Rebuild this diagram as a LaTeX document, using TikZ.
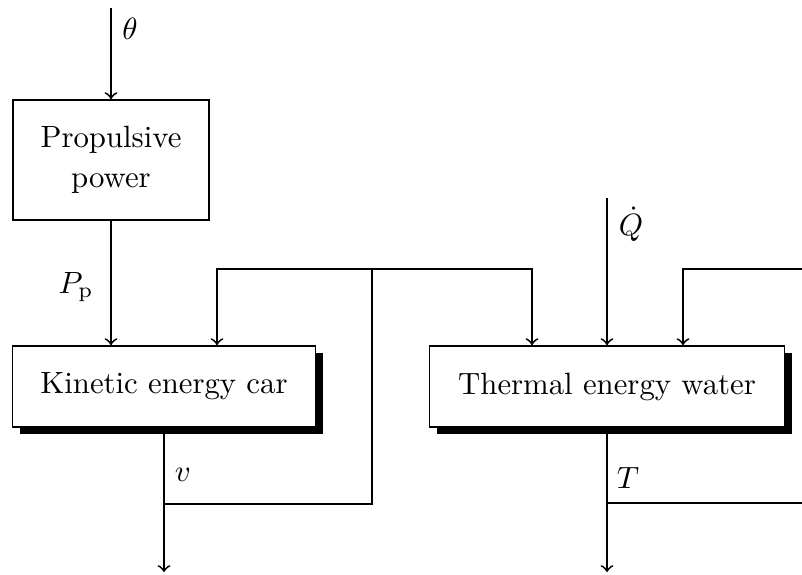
\documentclass[tikz,border=0pt]{standalone}
\usetikzlibrary{shadows}
\begin{document}
\begin{tikzpicture}[x=0.325pt,y=-0.325pt,
  line width=0.6pt,
  blk/.style={draw,fill=white,line width=0.6pt,inner sep=0pt,align=center},
  shd/.style={drop shadow={shadow xshift=2.4pt,shadow yshift=-2.4pt,fill=black,opacity=1}},
  lbl/.style={inner sep=0pt},
  >=to]
\useasboundingbox (0,0) rectangle (802,574);
% blocks
\node[blk,minimum width=63.7pt,minimum height=39pt] (prop) at (111,160) {Propulsive\\[1pt]power};
\node[blk,shd,minimum width=98.5pt,minimum height=26.3pt] (kin) at (164,386.5) {Kinetic energy car};
\node[blk,shd,minimum width=115.4pt,minimum height=26.3pt] (therm) at (607,386.5) {Thermal energy water};
% coordinates
\coordinate (thin) at (111,8);
\coordinate (qin) at (607,198);
\coordinate (fbk) at (217,269);
\coordinate (fbj) at (372,269);
\coordinate (fbt) at (532,269);
\coordinate (fbr) at (683,269);
\coordinate (redge) at (802,269);
\coordinate (vj) at (164,504);
\coordinate (vout) at (164,572);
\coordinate (tj) at (607,503);
\coordinate (tout) at (607,572);
\coordinate (tedge) at (802,503);
% connectors
\draw[->] (thin) -- (prop.north);
\draw[->] (prop.south) -- (prop.south |- kin.north);
\draw[->] (fbj) -- (fbk) -- (fbk |- kin.north);
\draw[->] (fbj) -- (fbt) -- (fbt |- therm.north);
\draw[->] (qin) -- (qin |- therm.north);
\draw[->] (redge) -- (fbr) -- (fbr |- therm.north);
\draw[->] (kin.south) -- (vout);
\draw (vj) -- (vj -| fbj) -- (fbj);
\draw[->] (therm.south) -- (tout);
\draw (tj) -- (tedge);
% labels
\node[lbl] (lth) at (130,29) {$\theta$};
\node[lbl] (lpp) at (76,287) {$P_{\mathrm{p}}$};
\node[lbl] (lv) at (183,475) {$v$};
\node[lbl] (lq) at (631,224) {$\dot{Q}$};
\node[lbl] (lt) at (628,478) {$T$};
\end{tikzpicture}
\end{document}
